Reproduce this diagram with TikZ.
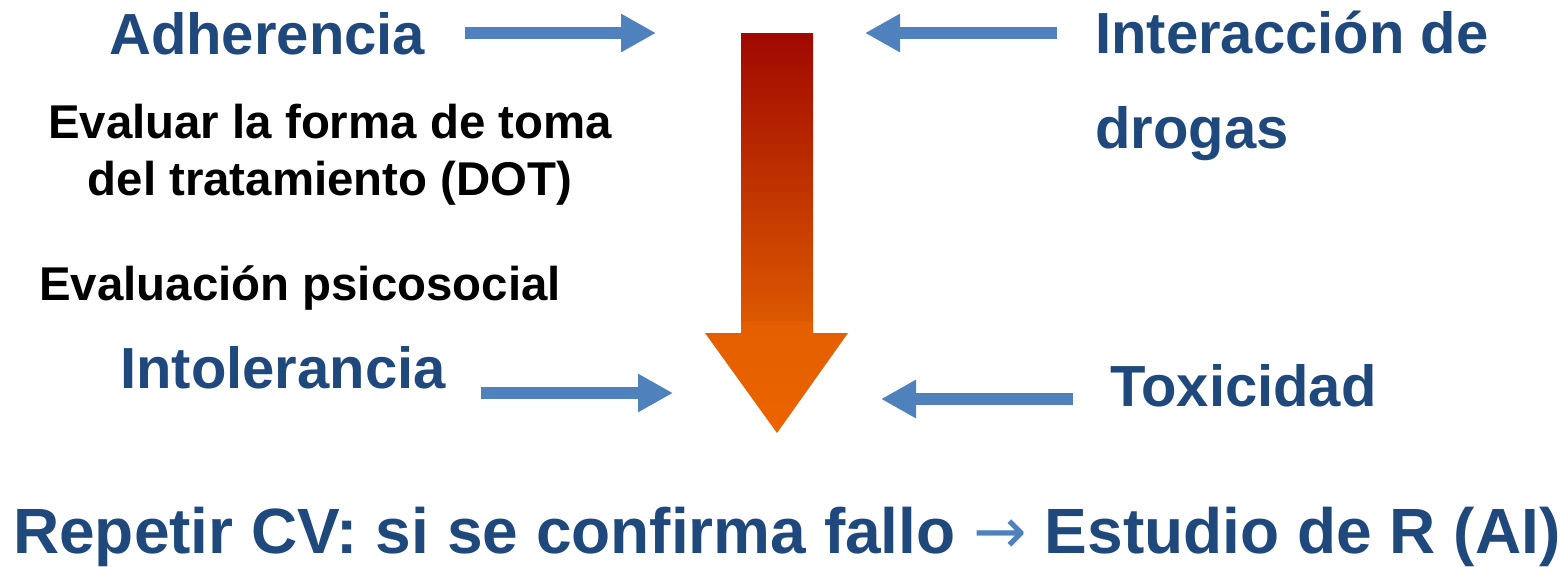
\documentclass[tikz,border=0pt]{standalone}
\usepackage{fontspec}
\setmainfont{Liberation Sans}
\newfontfamily\arrowfont{DejaVu Sans}
\usetikzlibrary{arrows.meta}
\definecolor{capblue}{HTML}{1F497D}
\definecolor{feedblue}{HTML}{4F81BD}
\definecolor{deepred}{HTML}{A00800}
\definecolor{burnt}{HTML}{DC5800}
\definecolor{flame}{HTML}{E45E00}
\definecolor{flamelow}{HTML}{EC6400}

\begin{document}
\begin{tikzpicture}[
        x=1pt, y=-1pt,
        cause/.style={font=\fontsize{58}{95}\selectfont\bfseries, text=capblue,
            inner sep=0pt, anchor=base west, align=left},
        note/.style={font=\fontsize{47.4}{57}\selectfont\bfseries, text=black,
            inner sep=0pt, anchor=base, align=center},
        feed/.style={draw=feedblue, line width=12pt, -{Triangle[length=35pt, width=36pt]}}
    ]
        \useasboundingbox (0,0) rectangle (1568,566);

        % central arrow
        \shade[top color=deepred, bottom color=burnt] (741,33) rectangle (813,321);
        \shade[top color=flame, bottom color=flamelow]
            (741,321) -- (813,321) -- (813,333) -- (848,333) -- (777,433)
            -- (705,333) -- (741,333) -- cycle;

        % causes (base = last line)
        \node[cause] (adh) at (109,54) {Adherencia};
        \node[cause] (inter) at (1095,148) {Interacción de\\drogas};
        \node[cause] (intol) at (120,388) {Intolerancia};
        \node[cause] (tox) at (1110,406) {Toxicidad};

        % what to check
        \node[note] (dot) at (330,195) {Evaluar la forma de toma\\del tratamiento (DOT)};
        \node[note] (psico) at (300,300) {Evaluación psicosocial};

        % arrows pointing in
        \coordinate (adhS) at (465,33);  \coordinate (adhE) at (656,33);
        \coordinate (intS) at (1057,33); \coordinate (intE) at (865,33);
        \coordinate (tolS) at (481,393); \coordinate (tolE) at (673,393);
        \coordinate (toxS) at (1073,399); \coordinate (toxE) at (881,399);
        \foreach \s/\e in {adhS/adhE, intS/intE, tolS/tolE, toxS/toxE}
            \draw[feed] (\s) -- (\e);

        \node[font=\fontsize{64}{64}\selectfont\bfseries, text=capblue, inner sep=0pt,
            anchor=base west] (cv) at (13,553)
            {Repetir CV: si se confirma fallo {\arrowfont\mdseries\color{feedblue}→} Estudio de R (AI)};
    \end{tikzpicture}
\end{document}
